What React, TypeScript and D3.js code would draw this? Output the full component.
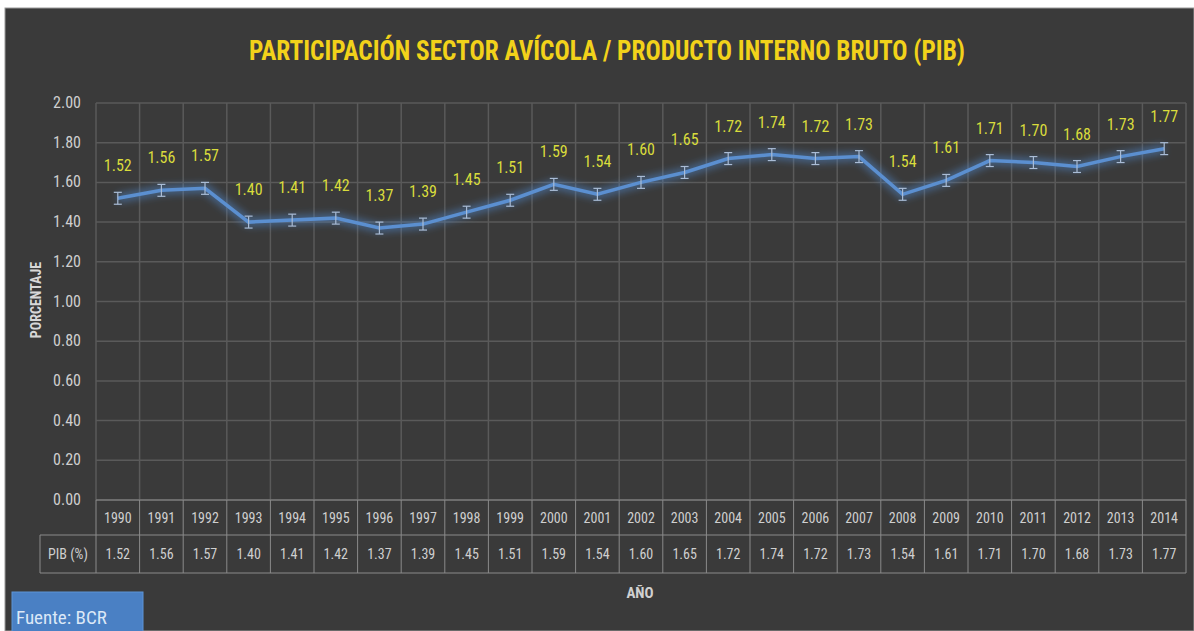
import React, { useEffect, useRef } from "react";
import * as d3 from "d3";

const years = [
  "1990", "1991", "1992", "1993", "1994", "1995", "1996", "1997", "1998", "1999",
  "2000", "2001", "2002", "2003", "2004", "2005", "2006", "2007", "2008", "2009",
  "2010", "2011", "2012", "2013", "2014",
];
const pib = [
  1.52, 1.56, 1.57, 1.4, 1.41, 1.42, 1.37, 1.39, 1.45, 1.51,
  1.59, 1.54, 1.6, 1.65, 1.72, 1.74, 1.72, 1.73, 1.54, 1.61,
  1.71, 1.7, 1.68, 1.73, 1.77,
];
const yTicks = [0, 0.2, 0.4, 0.6, 0.8, 1.0, 1.2, 1.4, 1.6, 1.8, 2.0];
const errorMargin = 0.03;

const title = "PARTICIPACIÓN SECTOR AVÍCOLA / PRODUCTO INTERNO BRUTO (PIB)";
const font = "'Liberation Sans Narrow', 'Roboto Condensed', Roboto, sans-serif";

const App = () => {
  const svgRef = useRef<SVGSVGElement>(null);

  useEffect(() => {
    const width = 1194;
    const height = 631;
    const plot = { left: 96, right: 1186, top: 103, bottom: 500 };
    const rowH = [35, 38];

    const svg = d3.select(svgRef.current)
      .attr("width", width)
      .attr("height", height);
    svg.selectAll("*").remove();

    svg.append("rect").attr("width", width).attr("height", height).attr("fill", "#ffffff");
    svg.append("rect")
      .attr("x", 5).attr("y", 8)
      .attr("width", width - 5).attr("height", height - 8)
      .attr("fill", "#3a3a3a")
      .attr("stroke", "#9a9a9a").attr("stroke-width", 1);

    const defs = svg.append("defs");
    const glow = defs.append("filter").attr("id", "glow")
      .attr("x", "-5%").attr("y", "-50%").attr("width", "110%").attr("height", "200%");
    glow.append("feGaussianBlur").attr("stdDeviation", 3.5);

    const x = d3.scaleBand().domain(years).range([plot.left, plot.right]);
    const y = d3.scaleLinear().domain([0, 2]).range([plot.bottom, plot.top]);

    // title
    svg.append("text")
      .attr("x", 607).attr("y", 60)
      .attr("text-anchor", "middle")
      .attr("textLength", 716)
      .attr("lengthAdjust", "spacingAndGlyphs")
      .style("font-family", font)
      .style("font-weight", "bold")
      .style("font-size", "28px")
      .attr("fill", "#f2d21a")
      .text(title);

    // gridlines
    const grid = svg.append("g");
    yTicks.forEach(t => {
      grid.append("line")
        .attr("x1", plot.left).attr("x2", plot.right)
        .attr("y1", y(t)).attr("y2", y(t))
        .attr("stroke", "#5a5a5a").attr("stroke-width", 1.5);
    });
    years.forEach(yr => {
      grid.append("line")
        .attr("x1", x(yr)!).attr("x2", x(yr)!)
        .attr("y1", plot.top).attr("y2", plot.bottom)
        .attr("stroke", "#5a5a5a").attr("stroke-width", 1.5);
    });
    grid.append("line")
      .attr("x1", plot.right).attr("x2", plot.right)
      .attr("y1", plot.top).attr("y2", plot.bottom)
      .attr("stroke", "#5a5a5a").attr("stroke-width", 1.5);

    // y axis labels
    svg.append("g").selectAll("text")
      .data(yTicks)
      .join("text")
      .attr("x", 81)
      .attr("y", d => y(d) + 5)
      .attr("text-anchor", "end")
      .style("font-family", font)
      .style("font-size", "16px")
      .attr("fill", "#cfcfcf")
      .text(d => d.toFixed(2));

    svg.append("text")
      .attr("transform", "translate(41,300) rotate(-90)")
      .attr("text-anchor", "middle")
      .style("font-family", font)
      .style("font-weight", "bold")
      .style("font-size", "14px")
      .attr("fill", "#d8d8d8")
      .text("PORCENTAJE");

    // line
    const cx = (d: string) => x(d)! + x.bandwidth() / 2;
    const line = d3.line<number>()
      .x((_, i) => cx(years[i]))
      .y(d => y(d));

    svg.append("path")
      .datum(pib)
      .attr("fill", "none")
      .attr("stroke", "#4f86c8")
      .attr("stroke-width", 10)
      .attr("stroke-opacity", 0.5)
      .attr("filter", "url(#glow)")
      .attr("d", line);
    svg.append("path")
      .datum(pib)
      .attr("fill", "none")
      .attr("stroke", "#5b8fd0")
      .attr("stroke-width", 3.5)
      .attr("d", line);

    // error bars
    const err = svg.append("g").attr("stroke", "#a9bcd6").attr("stroke-width", 1.2);
    pib.forEach((v, i) => {
      const px = cx(years[i]);
      const y0 = y(v - errorMargin);
      const y1 = y(v + errorMargin);
      err.append("line").attr("x1", px).attr("x2", px).attr("y1", y0).attr("y2", y1);
      err.append("line").attr("x1", px - 4).attr("x2", px + 4).attr("y1", y0).attr("y2", y0);
      err.append("line").attr("x1", px - 4).attr("x2", px + 4).attr("y1", y1).attr("y2", y1);
    });

    // data labels
    svg.append("g").selectAll("text")
      .data(pib)
      .join("text")
      .attr("x", (_, i) => cx(years[i]))
      .attr("y", d => y(d) - 27)
      .attr("text-anchor", "middle")
      .style("font-family", font)
      .style("font-size", "16px")
      .attr("fill", "#d9dc3c")
      .text(d => d.toFixed(2));

    // data table
    const table = svg.append("g");
    const tStroke = "#8a8a8a";
    const r0 = plot.bottom;
    const r1 = r0 + rowH[0];
    const r2 = r1 + rowH[1];
    table.append("line").attr("x1", plot.left).attr("x2", plot.right).attr("y1", r0).attr("y2", r0).attr("stroke", tStroke);
    table.append("line").attr("x1", 40).attr("x2", plot.right).attr("y1", r1).attr("y2", r1).attr("stroke", tStroke);
    table.append("line").attr("x1", 40).attr("x2", plot.right).attr("y1", r2).attr("y2", r2).attr("stroke", tStroke);
    table.append("line").attr("x1", 40).attr("x2", 40).attr("y1", r1).attr("y2", r2).attr("stroke", tStroke);
    [...years.map(yr => x(yr)!), plot.right].forEach(px => {
      table.append("line").attr("x1", px).attr("x2", px).attr("y1", r0).attr("y2", r2).attr("stroke", tStroke);
    });

    table.append("text")
      .attr("x", 68).attr("y", r1 + 24)
      .attr("text-anchor", "middle")
      .style("font-family", font)
      .style("font-size", "14px")
      .attr("fill", "#cfcfcf")
      .text("PIB (%)");

    years.forEach((yr, i) => {
      table.append("text")
        .attr("x", cx(yr)).attr("y", r0 + 23)
        .attr("text-anchor", "middle")
        .style("font-family", font)
        .style("font-size", "14px")
        .attr("fill", "#cfcfcf")
        .text(yr);
      table.append("text")
        .attr("x", cx(yr)).attr("y", r1 + 24)
        .attr("text-anchor", "middle")
        .style("font-family", font)
        .style("font-size", "14px")
        .attr("fill", "#cfcfcf")
        .text(pib[i].toFixed(2));
    });

    svg.append("text")
      .attr("x", 640).attr("y", 598)
      .attr("text-anchor", "middle")
      .style("font-family", font)
      .style("font-weight", "bold")
      .style("font-size", "15px")
      .attr("fill", "#d0d0d0")
      .text("AÑO");

    // source box
    svg.append("rect")
      .attr("x", 12).attr("y", 592)
      .attr("width", 131).attr("height", 45)
      .attr("fill", "#4a80c4")
      .attr("stroke", "#5d93d6");
    svg.append("text")
      .attr("x", 16).attr("y", 624)
      .style("font-family", font)
      .style("font-size", "19px")
      .attr("fill", "#dce8f7")
      .text("Fuente: BCR");
  }, []);

  return <svg ref={svgRef} style={{ position: "absolute", left: 0, top: 0 }}></svg>;
};

export default App;
